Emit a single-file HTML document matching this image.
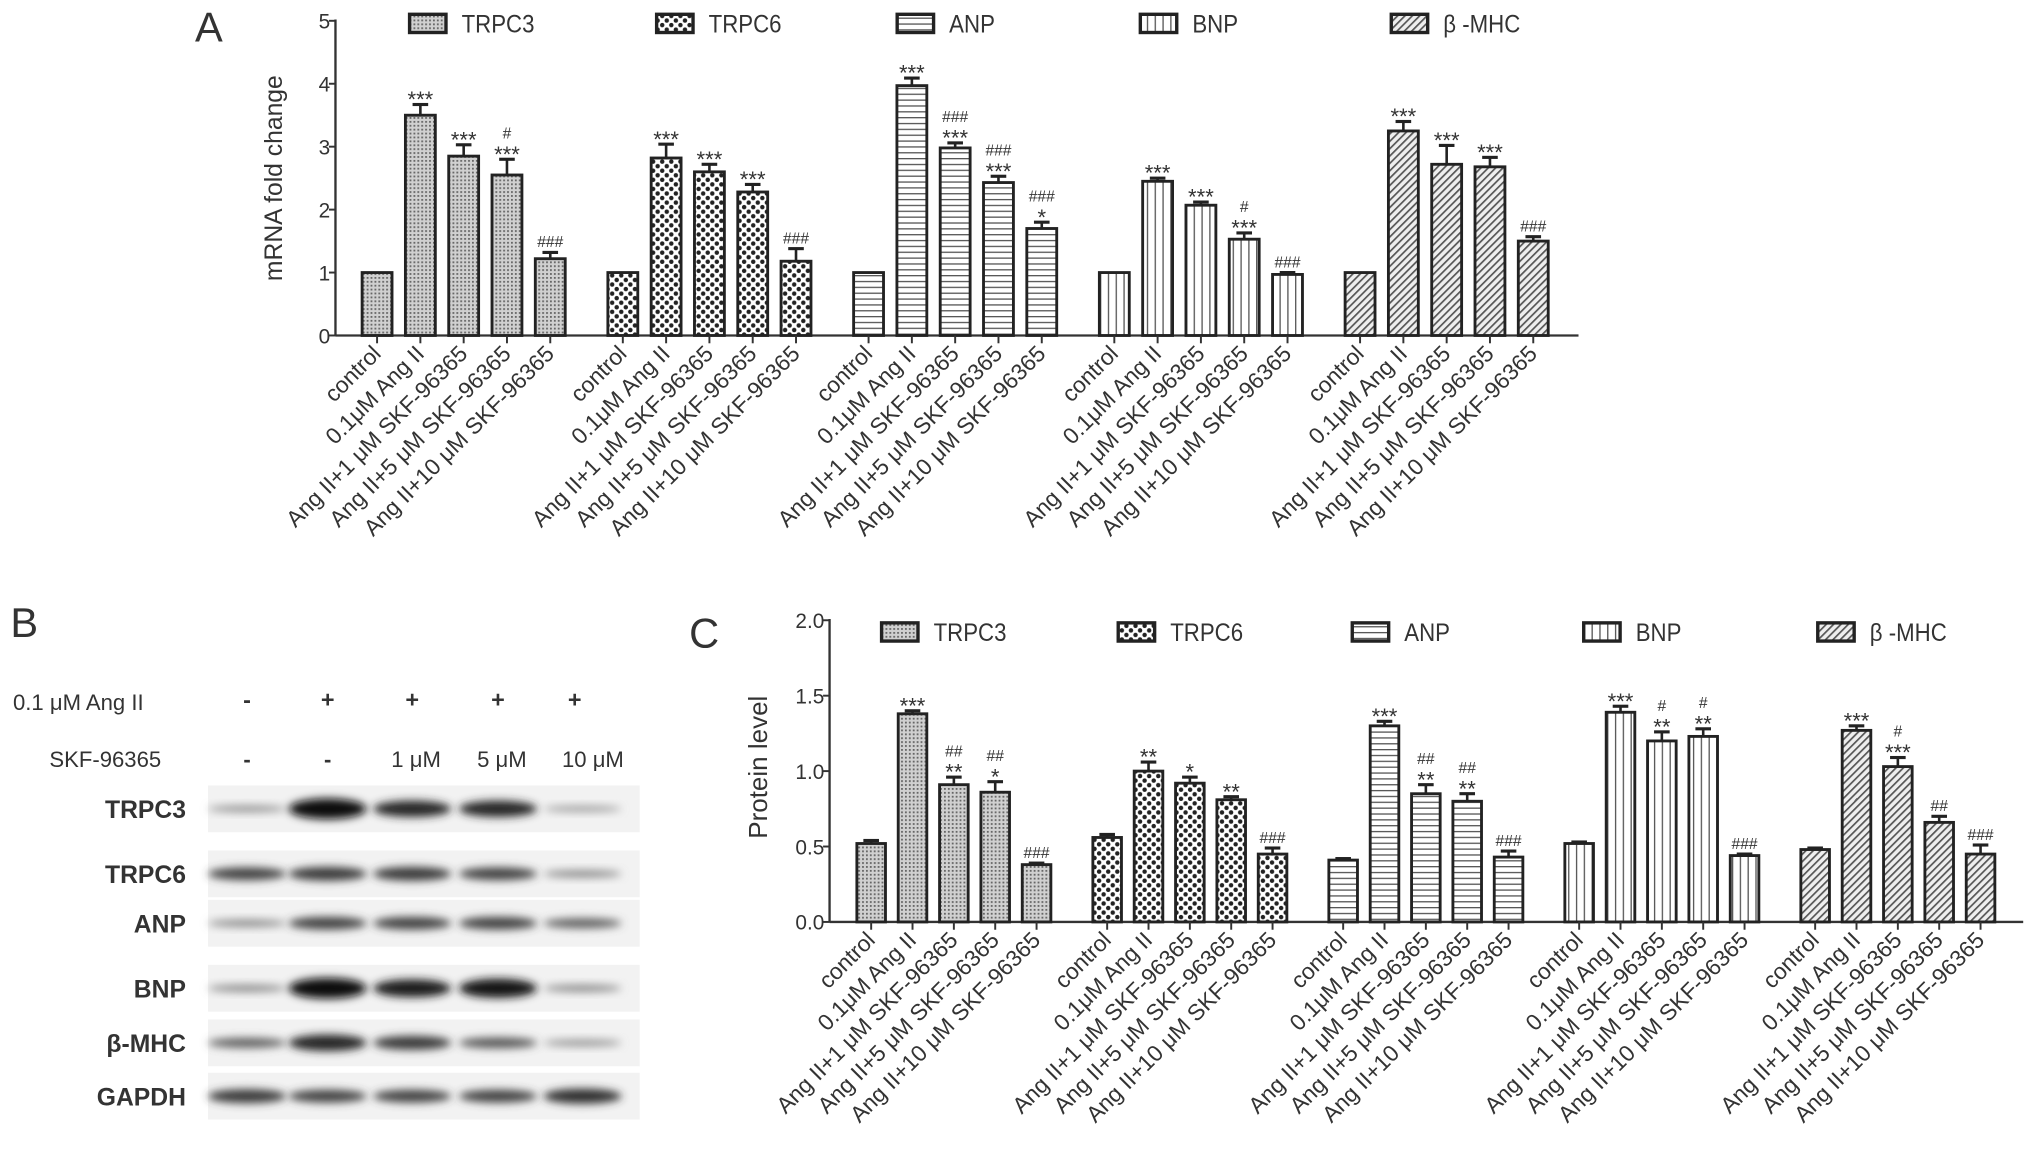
<!DOCTYPE html>
<html><head><meta charset="utf-8">
<style>
html,body{margin:0;padding:0;background:#fff;}
svg{display:block;}
text{font-family:"Liberation Sans",Arial,sans-serif;fill:#333;}
</style></head>
<body>
<svg id="fig" width="2031" height="1156" viewBox="0 0 1562 889" preserveAspectRatio="none" xmlns="http://www.w3.org/2000/svg">
<defs>
<filter id="blur" x="-30%" y="-100%" width="160%" height="300%"><feGaussianBlur stdDeviation="3.2"/></filter>
<pattern id="p0" width="3" height="3" patternUnits="userSpaceOnUse"><rect width="3" height="3" fill="#d0d0d0"/><rect width="1.4" height="1.4" fill="#666"/></pattern>
<pattern id="p1" width="7" height="7" patternUnits="userSpaceOnUse"><rect width="7" height="7" fill="#fff"/><circle cx="1.8" cy="1.8" r="1.7" fill="#222"/><circle cx="5.3" cy="5.3" r="1.7" fill="#222"/></pattern>
<pattern id="p2" width="4" height="4.5" patternUnits="userSpaceOnUse"><rect width="4" height="4.5" fill="#fff"/><rect y="0" width="4" height="1" fill="#555"/></pattern>
<pattern id="p3" width="6" height="4" patternUnits="userSpaceOnUse"><rect width="6" height="4" fill="#fff"/><rect x="0" width="1" height="4" fill="#555"/></pattern>
<pattern id="p4" width="4" height="4" patternUnits="userSpaceOnUse" patternTransform="rotate(45)"><rect width="4" height="4" fill="#eee"/><rect width="1.3" height="4" fill="#555"/></pattern>
</defs>
<g id="A"></g>
<g id="B"></g>
<g id="C"></g>
</svg>
<script>
const categories = ["control","0.1μM Ang II","Ang II+1 μM SKF-96365","Ang II+5 μM SKF-96365","Ang II+10 μM SKF-96365"];
const genes = ["TRPC3","TRPC6","ANP","BNP","β -MHC"];
const mrnaTRPC3 = [1,3.5,2.85,2.55,1.22];
const mrnaTRPC6 = [1,2.82,2.6,2.28,1.18];
const mrnaANP = [1,3.97,2.98,2.43,1.7];
const mrnaBNP = [1,2.45,2.07,1.53,0.97];
const mrnaMHC = [1,3.25,2.72,2.68,1.5];
const mrnaErrTRPC3 = [0,0.17,0.18,0.25,0.1];
const mrnaErrTRPC6 = [0,0.22,0.12,0.12,0.2];
const mrnaErrANP = [0,0.12,0.08,0.1,0.1];
const mrnaErrBNP = [0,0.05,0.05,0.1,0.03];
const mrnaErrMHC = [0,0.15,0.3,0.15,0.07];
const mrnaSig = [["","***","***","#|***","###"],["","***","***","***","###"],["","***","###|***","###|***","###|*"],["","***","***","#|***","###"],["","***","***","***","###"]];
const protTRPC3 = [0.52,1.38,0.91,0.86,0.38];
const protTRPC6 = [0.56,1.0,0.92,0.81,0.45];
const protANP = [0.41,1.30,0.85,0.80,0.43];
const protBNP = [0.52,1.39,1.20,1.23,0.44];
const protMHC = [0.48,1.27,1.03,0.66,0.45];
const protErrTRPC3 = [0.02,0.02,0.05,0.07,0.01];
const protErrTRPC6 = [0.02,0.06,0.04,0.02,0.04];
const protErrANP = [0.01,0.03,0.06,0.05,0.04];
const protErrBNP = [0.01,0.04,0.06,0.05,0.01];
const protErrMHC = [0.01,0.03,0.06,0.04,0.06];
const protSig = [["","***","##|**","##|*","###"],["","**","*","**","###"],["","***","##|**","##|**","###"],["","***","#|**","#|**","###"],["","***","#|***","##","###"]];
const mrnaTicks = [0,1,2,3,4,5];
const protTicks = ["0.0","0.5","1.0","1.5","2.0"];
const blotRows = ["TRPC3","TRPC6","ANP","BNP","β-MHC","GAPDH"];
const blotIntensity = [[0.3,1,0.85,0.85,0.25],[0.7,0.75,0.75,0.7,0.35],[0.35,0.7,0.7,0.7,0.55],[0.35,1,0.9,0.95,0.35],[0.55,0.85,0.75,0.6,0.3],[0.75,0.7,0.7,0.7,0.8]];
const angSigns = ["-","+","+","+","+"];
const skfDoses = ["-","-","1 μM","5 μM","10 μM"];

const NS="http://www.w3.org/2000/svg";
function mk(parent,tag,attrs,txt){const e=document.createElementNS(NS,tag);for(const k in attrs)e.setAttribute(k,attrs[k]);if(txt!==undefined)e.textContent=txt;parent.appendChild(e);return e;}

function chart(g,o){
  const y=v=>o.y0-(v-o.vmin)/(o.vmax-o.vmin)*(o.y0-o.y1);
  const ax=mk(g,'line',{x1:o.ax,y1:o.y1-1,x2:o.ax,y2:o.y0,stroke:'#333','stroke-width':1.8});
  
  const xa=mk(g,'line',{x1:o.ax,y1:o.y0,x2:o.xend,y2:o.y0,stroke:'#333','stroke-width':1.8});
  
  o.ticks.forEach(t=>{const v=parseFloat(t);const yy=y(v);
    mk(g,'line',{x1:o.ax-5,y1:yy,x2:o.ax,y2:yy,stroke:'#333','stroke-width':1.5});
    const tl=mk(g,'text',{x:o.ax-4,y:yy+6,'text-anchor':'end','font-size':o.tfs},String(t));
    });
  const yl=mk(g,'text',{x:o.ylx,y:o.yly,'text-anchor':'middle','font-size':o.ylfs,transform:`rotate(-90 ${o.ylx} ${o.yly})`},o.ylabel);
  
  const pl=mk(g,'text',{x:o.plx,y:o.ply,'font-size':32,fill:'#111'},o.panel);
  
  o.series.forEach((vals,gi)=>{
    const errs=o.errs[gi];
    const lx=o.legX[gi];
    const lb=mk(g,'rect',{x:lx,y:o.legY-7,width:28,height:14,fill:`url(#p${gi})`,stroke:'#222','stroke-width':2.6});
    
    const lt=mk(g,'text',{x:lx+40,y:o.legY+7,'font-size':19,fill:'#555',transform:`translate(${lx+40} 0) scale(0.9 1) translate(${-(lx+40)} 0)`},genes[gi]);
    
    vals.forEach((v,i)=>{
      const cx=o.gx0+gi*o.gstep+i*o.bstep;
      const top=y(v);
      const e=errs[i];
      if(e>0){const ey=y(v+e);
        mk(g,'line',{x1:cx,y1:top,x2:cx,y2:ey,stroke:'#222','stroke-width':2});
        mk(g,'line',{x1:cx-6,y1:ey,x2:cx+6,y2:ey,stroke:'#222','stroke-width':2.4});}
      const b=mk(g,'rect',{x:cx-o.bw/2,y:top,width:o.bw,height:o.y0-top,fill:`url(#p${gi})`,stroke:'#222','stroke-width':2.2});
      
      mk(g,'line',{x1:cx,y1:o.y0,x2:cx,y2:o.y0+6,stroke:'#333','stroke-width':1.5});
      const sig=o.sig[gi][i];
      if(sig){const parts=sig.split('|');let sy=y(v+e)-4;
        for(let k=parts.length-1;k>=0;k--){const p=parts[k];const isHash=p[0]==='#';
          const st=mk(g,'text',{x:cx,y:sy+(isHash?0:6),'text-anchor':'middle','font-size':isHash?12:17,fill:'#444'},p);
          
          sy-=isHash?11:12;}}
      const lxp=cx+4,lyp=o.y0+15;
      const cl=mk(g,'text',{x:lxp,y:lyp,'text-anchor':'end','font-size':o.cfs,fill:'#1a1a1a',transform:`rotate(-45 ${lxp} ${lyp})`},categories[i]);
      
    });
  });
}

chart(document.getElementById('A'),{vmin:0,vmax:5,y0:258,y1:16,ax:258,xend:1214,ticks:mrnaTicks,tfs:16,
  ylabel:'mRNA fold change',ylx:217,yly:137,ylfs:19,panel:'A',plx:150,ply:32,
  series:[mrnaTRPC3,mrnaTRPC6,mrnaANP,mrnaBNP,mrnaMHC],errs:[mrnaErrTRPC3,mrnaErrTRPC6,mrnaErrANP,mrnaErrBNP,mrnaErrMHC],sig:mrnaSig,
  gx0:290,gstep:189,bstep:33.3,bw:23,legX:[315,505,690,877,1070],legY:18,cfs:17.5});

chart(document.getElementById('C'),{vmin:0,vmax:2,y0:709,y1:477,ax:638,xend:1556,ticks:protTicks,tfs:16,
  ylabel:'Protein level',ylx:590,yly:590,ylfs:20,panel:'C',plx:530,ply:498,
  series:[protTRPC3,protTRPC6,protANP,protBNP,protMHC],errs:[protErrTRPC3,protErrTRPC6,protErrANP,protErrBNP,protErrMHC],sig:protSig,
  gx0:670,gstep:181.5,bstep:31.8,bw:22,legX:[678,860,1040,1218,1398],legY:486,cfs:17.5});

// Panel B
const B=document.getElementById('B');
const lanes=[190,252,317,383,448];
const rowY=[622,672,710,760,802,843];
let t=mk(B,'text',{x:8,y:490,'font-size':32,fill:'#111'},'B');
t=mk(B,'text',{x:10,y:546,'font-size':17,fill:'#222'},'0.1 μM Ang II');
t=mk(B,'text',{x:38,y:590,'font-size':17,fill:'#222'},'SKF-96365');
angSigns.forEach((s,i)=>{const e=mk(B,'text',{x:lanes[i]+(i===4?-6:0),y:544,'text-anchor':'middle','font-size':18,'font-weight':'bold',fill:'#222'},s);});
skfDoses.forEach((s,i)=>{const e=mk(B,'text',{x:lanes[i]+(i===4?8:(i>1?3:0)),y:590,'text-anchor':'middle','font-size':17,'font-weight':s==='-'?'bold':'normal',fill:'#222'},s);});
blotRows.forEach((r,ri)=>{
  const yy=rowY[ri];
  const bg=mk(B,'rect',{x:160,y:yy-18,width:332,height:36,fill:'#f2f2f2'});
  const lab=mk(B,'text',{x:143,y:yy+7,'text-anchor':'end','font-size':19,'font-weight':'bold',fill:'#222'},r);
  blotIntensity[ri].forEach((v,li)=>{
    const h=4+v*v*12;const c=Math.round(200-v*190);
    const band=mk(B,'ellipse',{cx:lanes[li],cy:yy,rx:30,ry:h/2,fill:`rgb(${c},${c},${c})`,filter:'url(#blur)'});
    
  });
});
</script>
</body></html>
